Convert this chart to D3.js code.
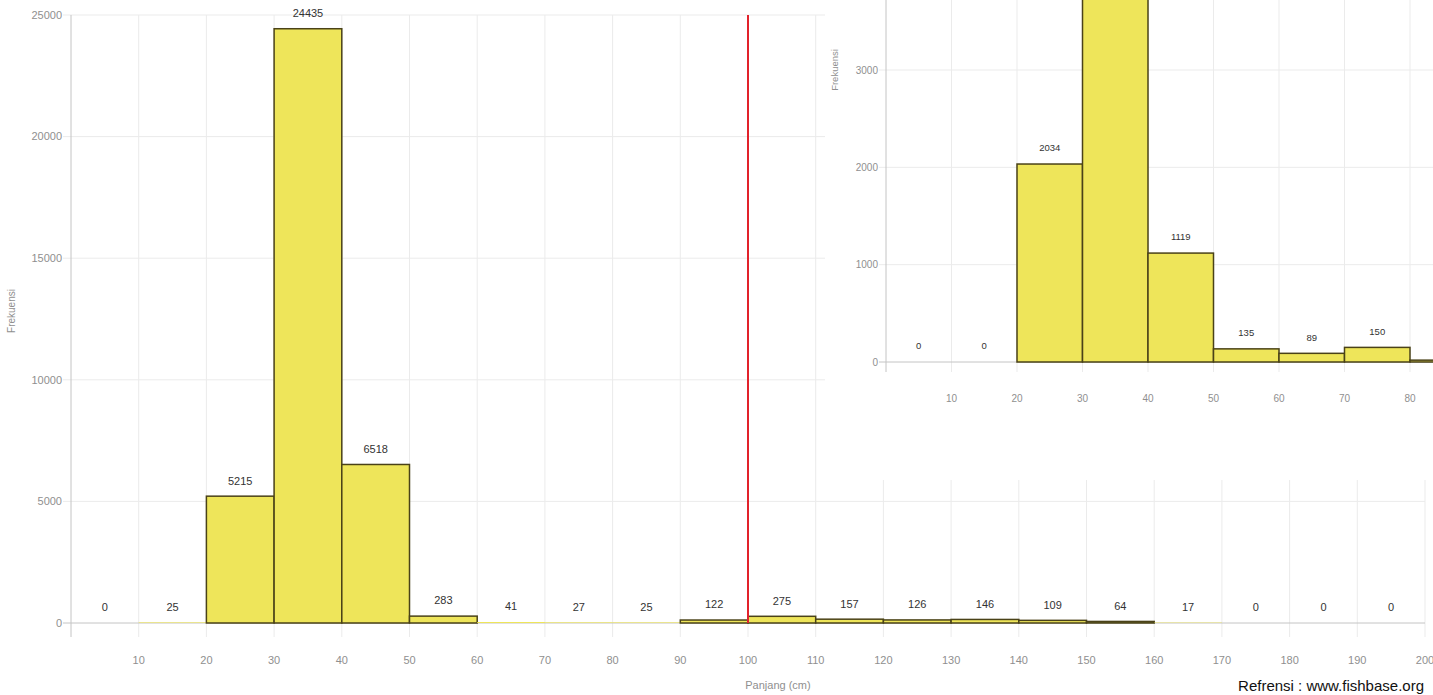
<!DOCTYPE html>
<html>
<head>
<meta charset="utf-8">
<script src="https://cdn.jsdelivr.net/npm/d3@7"></script>
<style>
  html, body { margin: 0; padding: 0; background: #fff; overflow: hidden; }
  svg { display: block; font-family: Arial, "Liberation Sans", sans-serif; }
</style>
</head>
<body>
<svg id="chart" width="1433" height="695"></svg>
<script>
// ---- data ----
const binStarts = [0,10,20,30,40,50,60,70,80,90,100,110,120,130,140,150,160,170,180,190];
const binWidth = 10;
const frequencies = [0,25,5215,24435,6518,283,41,27,25,122,275,157,126,146,109,64,17,0,0,0];
const xTickValues = [10,20,30,40,50,60,70,80,90,100,110,120,130,140,150,160,170,180,190,200];
const yTickValues = [0,5000,10000,15000,20000,25000];
const markerLength = 100;

const insetBinStarts = [0,10,20,30,40,50,60,70,80];
const insetFrequencies = [0,0,2034,4700,1119,135,89,150,19];
const insetXTickValues = [10,20,30,40,50,60,70,80];
const insetYTickValues = [0,1000,2000,3000];

const xLabel = "Panjang (cm)";
const yLabel = "Frekuensi";
const sourceText = "Refrensi : www.fishbase.org";

// ---- styles ----
const barFill = "#eee55a";
const barStroke = "#4a4218";
const gridColor = "#ebebeb";
const axisColor = "#c4c4c4";
const tickText = "#8f8f8f";
const labelText = "#333";

const svg = d3.select("#chart");

// ===== main chart =====
const x = d3.scaleLinear().domain([0, 200]).range([71, 1425]);
const y = d3.scaleLinear().domain([0, 25000]).range([623, 15]);

const g = svg.append("g");

// vertical grid
g.selectAll("line.vg").data(xTickValues).join("line")
  .attr("x1", d => x(d)).attr("x2", d => x(d))
  .attr("y1", y(25000)).attr("y2", y(0) + 14)
  .attr("stroke", gridColor).attr("stroke-width", 1);
// horizontal grid
g.selectAll("line.hg").data(yTickValues.filter(d => d > 0)).join("line")
  .attr("x1", x(0) - 8).attr("x2", x(200))
  .attr("y1", d => y(d)).attr("y2", d => y(d))
  .attr("stroke", gridColor).attr("stroke-width", 1);

// axes lines
g.append("line").attr("x1", x(0)).attr("x2", x(0)).attr("y1", y(25000)).attr("y2", y(0) + 14)
  .attr("stroke", axisColor);
g.append("line").attr("x1", x(0) - 8).attr("x2", x(200)).attr("y1", y(0)).attr("y2", y(0))
  .attr("stroke", axisColor);

// y tick labels
g.selectAll("text.yt").data(yTickValues).join("text")
  .attr("x", x(0) - 9).attr("y", d => y(d)).attr("dy", "0.35em")
  .attr("text-anchor", "end").attr("font-size", 11).attr("fill", tickText)
  .text(d => d);
// x tick labels
g.selectAll("text.xt").data(xTickValues).join("text")
  .attr("x", d => x(d)).attr("y", y(0) + 37).attr("dy", "0.35em")
  .attr("text-anchor", "middle").attr("font-size", 11).attr("fill", tickText)
  .text(d => d);

// bars
const mainData = binStarts.map((b, i) => ({ b, v: frequencies[i] }));
g.selectAll("rect.bar").data(mainData.filter(d => d.v > 0)).join("rect")
  .attr("x", d => x(d.b)).attr("width", d => x(d.b + binWidth) - x(d.b))
  .attr("y", d => y(d.v)).attr("height", d => y(0) - y(d.v))
  .attr("fill", barFill)
  .attr("stroke", barStroke)
  .attr("stroke-opacity", d => (y(0) - y(d.v)) > 1.5 ? 1 : 0)
  .attr("stroke-width", 1.5);

// value labels
g.selectAll("text.val").data(mainData).join("text")
  .attr("x", d => x(d.b + binWidth / 2)).attr("y", d => y(d.v) - 15.5).attr("dy", "0.35em")
  .attr("text-anchor", "middle").attr("font-size", 11).attr("fill", labelText)
  .text(d => d.v);

// red marker line
g.append("line").attr("x1", x(markerLength)).attr("x2", x(markerLength))
  .attr("y1", y(25000)).attr("y2", y(0))
  .attr("stroke", "#e2222b").attr("stroke-width", 2);

// axis titles
g.append("text").attr("x", 778).attr("y", 685).attr("dy", "0.35em")
  .attr("text-anchor", "middle").attr("font-size", 11).attr("fill", tickText).text(xLabel);
g.append("text").attr("transform", `translate(11,${(y(0) + y(25000)) / 2 - 8}) rotate(-90)`)
  .attr("text-anchor", "middle").attr("dy", "0.35em").attr("font-size", 10).attr("fill", tickText)
  .text(yLabel);

// source
svg.append("text").attr("x", 1424).attr("y", 686).attr("dy", "0.35em")
  .attr("text-anchor", "end").attr("font-size", 15).attr("fill", "#111")
  .text(sourceText);

// ===== inset chart =====
const inset = svg.append("g");
const insetLeft = 825, insetBottom = 480;
svg.append("defs").append("clipPath").attr("id", "insetClip")
  .append("rect").attr("x", insetLeft).attr("y", 0).attr("width", 1433 - insetLeft).attr("height", insetBottom);
inset.attr("clip-path", "url(#insetClip)");
inset.append("rect").attr("x", insetLeft).attr("y", 0).attr("width", 1433 - insetLeft).attr("height", insetBottom)
  .attr("fill", "#fff");

const ix = d3.scaleLinear().domain([0, 90]).range([886, 886 + 9 * 65.5]);
const iy = d3.scaleLinear().domain([0, 3000]).range([362, 70]);

inset.selectAll("line.ivg").data(insetXTickValues).join("line")
  .attr("x1", d => ix(d)).attr("x2", d => ix(d))
  .attr("y1", 0).attr("y2", iy(0) + 10)
  .attr("stroke", gridColor);
inset.selectAll("line.ihg").data(insetYTickValues.filter(d => d > 0)).join("line")
  .attr("x1", ix(0) - 7).attr("x2", 1433)
  .attr("y1", d => iy(d)).attr("y2", d => iy(d))
  .attr("stroke", gridColor);
inset.append("line").attr("x1", ix(0)).attr("x2", ix(0)).attr("y1", 0).attr("y2", iy(0) + 10)
  .attr("stroke", axisColor);
inset.append("line").attr("x1", ix(0) - 7).attr("x2", 1433).attr("y1", iy(0)).attr("y2", iy(0))
  .attr("stroke", axisColor);

inset.selectAll("text.iyt").data(insetYTickValues).join("text")
  .attr("x", ix(0) - 8).attr("y", d => iy(d)).attr("dy", "0.35em")
  .attr("text-anchor", "end").attr("font-size", 10).attr("fill", tickText).text(d => d);
inset.selectAll("text.ixt").data(insetXTickValues).join("text")
  .attr("x", d => ix(d)).attr("y", 398).attr("dy", "0.35em")
  .attr("text-anchor", "middle").attr("font-size", 10).attr("fill", tickText).text(d => d);

const insetData = insetBinStarts.map((b, i) => ({ b, v: insetFrequencies[i] }));
inset.selectAll("rect.ibar").data(insetData.filter(d => d.v > 0)).join("rect")
  .attr("x", d => ix(d.b)).attr("width", d => ix(d.b + binWidth) - ix(d.b))
  .attr("y", d => iy(d.v)).attr("height", d => iy(0) - iy(d.v))
  .attr("fill", barFill).attr("stroke", barStroke).attr("stroke-width", 1.5);

// value labels (only those that fall inside the visible inset area)
inset.selectAll("text.ival").data(insetData.filter(d => iy(d.v) - 16 > 8)).join("text")
  .attr("x", d => ix(d.b + binWidth / 2)).attr("y", d => iy(d.v) - 16).attr("dy", "0.35em")
  .attr("text-anchor", "middle").attr("font-size", 9.5).attr("fill", labelText).text(d => d.v);

inset.append("text").attr("transform", `translate(835,70) rotate(-90)`)
  .attr("text-anchor", "middle").attr("dy", "0.35em").attr("font-size", 9.5).attr("fill", tickText)
  .text(yLabel);
</script>
</body>
</html>
